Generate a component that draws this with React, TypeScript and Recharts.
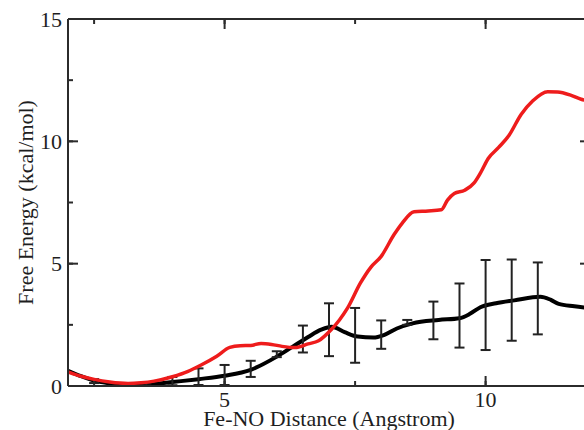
import React from "react";
import { LineChart, Line, XAxis, YAxis, ErrorBar, Label } from "recharts";

// black curve (with error bars) and red curve
const blackX = [2.0, 2.25, 2.5, 2.75, 3.0, 3.25, 3.5, 3.75, 4.0, 4.5, 5.0, 5.5, 6.0, 6.3, 6.6, 6.85, 7.05, 7.3, 7.55, 7.85, 8.05, 8.3, 8.6, 9.1, 9.5, 9.7, 9.9, 10.2, 10.55, 11.05, 11.25, 11.4, 11.7, 12.0];
const blackY = [0.62, 0.4, 0.22, 0.12, 0.06, 0.04, 0.05, 0.1, 0.16, 0.28, 0.42, 0.66, 1.2, 1.6, 2.0, 2.3, 2.42, 2.2, 2.02, 1.98, 2.08, 2.35, 2.56, 2.7, 2.77, 2.95, 3.22, 3.38, 3.5, 3.65, 3.52, 3.36, 3.26, 3.18];

const redX = [2.0, 2.25, 2.5, 2.8, 3.15, 3.4, 3.65, 4.0, 4.3, 4.55, 4.85, 5.1, 5.3, 5.5, 5.7, 5.9, 6.1, 6.35, 6.6, 6.8, 7.04, 7.2, 7.36, 7.6, 7.8, 8.0, 8.25, 8.4, 8.63, 8.9, 9.15, 9.27, 9.4, 9.6, 9.78, 9.9, 10.05, 10.25, 10.45, 10.68, 10.9, 11.19, 11.38, 11.64, 11.83, 12.0];
const redY = [0.58, 0.4, 0.27, 0.16, 0.1, 0.13, 0.2, 0.38, 0.6, 0.86, 1.22, 1.58, 1.65, 1.66, 1.74, 1.7, 1.62, 1.57, 1.72, 1.85, 2.3, 2.7, 3.2, 4.2, 4.85, 5.3, 6.2, 6.65, 7.12, 7.15, 7.2, 7.6, 7.87, 8.0, 8.3, 8.7, 9.3, 9.75, 10.25, 11.1, 11.65, 12.03, 12.02, 11.88, 11.72, 11.65];

const errX = [2.5, 3.0, 3.5, 4.0, 4.5, 5.0, 5.5, 6.0, 6.5, 7.0, 7.5, 8.0, 8.5, 9.0, 9.5, 10.0, 10.5, 11.0];
const errY = [0.2, 0.06, 0.08, 0.2, 0.38, 0.45, 0.7, 1.3, 1.92, 2.3, 2.07, 2.1, 2.6, 2.68, 2.88, 3.31, 3.51, 3.58];
const errSize = [0.08, 0.06, 0.06, 0.17, 0.34, 0.41, 0.33, 0.12, 0.55, 1.08, 1.12, 0.58, 0.1, 0.77, 1.31, 1.84, 1.66, 1.47];

const xTicks = [2.5, 5, 7.5, 10];
const yTicks = [0, 2.5, 5, 7.5, 10, 12.5, 15];

const blackData = blackX.map((x, i) => ({ x, y: blackY[i] }));
const redData = redX.map((x, i) => ({ x, y: redY[i] }));
const errData = errX.map((x, i) => ({ x, y: errY[i], err: errSize[i] }));

const FONT = "'Liberation Serif', 'Times New Roman', serif";
const INK = "#2b2b2b";
const TEXT = "#1e1e1e";
const MINOR = 5; // native inward tick length
const MAJOR = 10;

const isMajor = (v: number) => v % 5 === 0;

// native tick lines give the 5px minor marks; majors get extended here
function BottomTick(props: any) {
  const { x, y, payload } = props;
  const major = isMajor(payload.value);
  return (
    <g>
      {major && <path d={`M${x},${y}V${y - MAJOR}`} stroke={INK} strokeWidth={2} fill="none" />}
      {major && (
        <text x={x} y={y + 5} dy="0.71em" textAnchor="middle" fontFamily={FONT} fontSize={22} fill={TEXT}>
          {payload.value}
        </text>
      )}
    </g>
  );
}

function TopTick(props: any) {
  const { x, y, payload } = props;
  if (!isMajor(payload.value)) return <g />;
  return <path d={`M${x},${y}V${y + MAJOR}`} stroke={INK} strokeWidth={2} fill="none" />;
}

function LeftTick(props: any) {
  const { x, y, payload } = props;
  const major = isMajor(payload.value);
  return (
    <g>
      {major && <path d={`M${x},${y}H${x + MAJOR}`} stroke={INK} strokeWidth={2} fill="none" />}
      {major && (
        <text x={x - 6} y={y} dy="0.35em" textAnchor="end" fontFamily={FONT} fontSize={22} fill={TEXT}>
          {payload.value}
        </text>
      )}
    </g>
  );
}

function RightTick(props: any) {
  const { x, y, payload } = props;
  if (!isMajor(payload.value)) return <g />;
  return <path d={`M${x},${y}H${x - MAJOR}`} stroke={INK} strokeWidth={2} fill="none" />;
}

export default function App() {
  const axisLine = { stroke: INK, strokeWidth: 2 };
  const tickLine = { stroke: INK, strokeWidth: 2 };
  return (
    <div style={{ position: "absolute", left: 0, top: 0, width: 584, height: 430, overflow: "hidden", background: "#fff" }}>
      <LineChart width={600} height={430} margin={{ top: 0, right: 0, bottom: 0, left: 0 }}>
        <XAxis
          xAxisId="bottom"
          dataKey="x"
          type="number"
          domain={[2, 12]}
          allowDataOverflow
          ticks={xTicks}
          interval={0}
          height={44}
          tickSize={-MINOR}
          tickMargin={MINOR}
          tickLine={tickLine}
          axisLine={axisLine}
          tick={<BottomTick />}
        >
          <Label
            value="Fe-NO Distance (Angstrom)"
            position="insideBottom"
            offset={4}
            style={{ fontFamily: FONT, fontSize: 22, fill: TEXT }}
          />
        </XAxis>
        <XAxis
          xAxisId="top"
          orientation="top"
          dataKey="x"
          type="number"
          domain={[2, 12]}
          allowDataOverflow
          ticks={xTicks}
          interval={0}
          height={19}
          tickSize={-MINOR}
          tickMargin={MINOR}
          tickLine={tickLine}
          axisLine={axisLine}
          tick={<TopTick />}
        />
        <YAxis
          yAxisId="left"
          type="number"
          domain={[0, 15]}
          allowDataOverflow
          ticks={yTicks}
          interval={0}
          width={68}
          tickSize={-MINOR}
          tickMargin={MINOR}
          tickLine={tickLine}
          axisLine={axisLine}
          tick={<LeftTick />}
        >
          <Label
            value="Free Energy (kcal/mol)"
            angle={-90}
            position="insideLeft"
            offset={25}
            style={{ fontFamily: FONT, fontSize: 22, fill: TEXT, textAnchor: "middle" }}
          />
        </YAxis>
        <YAxis
          yAxisId="right"
          orientation="right"
          type="number"
          domain={[0, 15]}
          allowDataOverflow
          ticks={yTicks}
          interval={0}
          width={10}
          tickSize={-MINOR}
          tickMargin={MINOR}
          tickLine={tickLine}
          axisLine={axisLine}
          tick={<RightTick />}
        />

        {/* keeps the mirrored top/right axes bound to a series */}
        <Line xAxisId="top" yAxisId="right" data={blackData} dataKey="y" stroke="none" dot={false} activeDot={false} isAnimationActive={false} />

        <Line
          xAxisId="bottom"
          yAxisId="left"
          data={blackData}
          dataKey="y"
          type="monotone"
          stroke="#000"
          strokeWidth={4}
          dot={false}
          activeDot={false}
          isAnimationActive={false}
        />
        <Line
          xAxisId="bottom"
          yAxisId="left"
          data={errData}
          dataKey="y"
          stroke="none"
          dot={false}
          activeDot={false}
          isAnimationActive={false}
        >
          <ErrorBar dataKey="err" direction="y" width={5} stroke="#222" strokeWidth={2} isAnimationActive={false} />
        </Line>
        <Line
          xAxisId="bottom"
          yAxisId="left"
          data={redData}
          dataKey="y"
          type="monotone"
          stroke="#ee1c1c"
          strokeWidth={3.5}
          dot={false}
          activeDot={false}
          isAnimationActive={false}
        />
      </LineChart>
    </div>
  );
}
